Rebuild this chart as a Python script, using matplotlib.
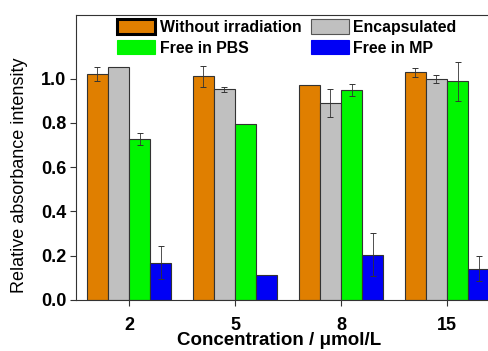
import matplotlib
matplotlib.use("Agg")
import matplotlib.pyplot as plt
from matplotlib.patches import Patch
import numpy as np

plt.rcParams['font.family'] = ['Liberation Sans', 'DejaVu Sans']

categories = ['2', '5', '8', '15']
series_names = ['Without irradiation', 'Encapsulated', 'Free in PBS', 'Free in MP']
without_irr = [1.021, 1.011, 0.970, 1.029]
encapsulated = [1.053, 0.952, 0.889, 0.999]
free_pbs = [0.726, 0.797, 0.949, 0.988]
free_mp = [0.169, 0.113, 0.205, 0.141]

err_without = [0.030, 0.048, 0.0, 0.020]
err_encap = [0.0, 0.010, 0.063, 0.017]
err_pbs = [0.027, 0.0, 0.029, 0.089]
err_mp = [0.074, 0.0, 0.098, 0.057]

colors = ['#E07F00', '#C0C0C0', '#00F500', '#0000F5']

fig = plt.figure(figsize=(4.89, 3.51), dpi=100)
ax = fig.add_axes([76/489, 51/351, 424/489, 285.5/351])

x = np.arange(len(categories))
w = 0.2
data = [without_irr, encapsulated, free_pbs, free_mp]
errs = [err_without, err_encap, err_pbs, err_mp]
offsets = [-1.5, -0.5, 0.5, 1.5]
for vals, er, c, off in zip(data, errs, colors, offsets):
    ax.bar(x + off * w, vals, width=w, color=c, edgecolor='#333333', linewidth=0.8, zorder=2)
    ax.errorbar(x + off * w, vals, yerr=er, fmt='none', ecolor='#333333',
                elinewidth=0.6, capsize=2.5, capthick=0.7, zorder=3)

ax.set_xlim(-0.5, 3.5)
ax.set_ylim(0, 1.29)
ax.set_yticks([0.0, 0.2, 0.4, 0.6, 0.8, 1.0])
ax.set_yticklabels(['0.0', '0.2', '0.4', '0.6', '0.8', '1.0'])
ax.set_xticks(x)
ax.set_xticklabels(categories)
for lab in ax.get_xticklabels() + ax.get_yticklabels():
    lab.set_fontweight('bold')
    lab.set_fontsize(13)
ax.tick_params(axis='both', direction='out', length=4, width=0.8, color='#333333', pad=3)
ax.tick_params(axis='x', pad=8)
for s in ['left', 'bottom', 'top', 'right']:
    ax.spines[s].set_color('#333333')
    ax.spines[s].set_linewidth(0.8)

ax.set_xlabel('Concentration / μmol/L', fontsize=13.5, fontweight='bold')
ax.xaxis.set_label_coords(0.479, -0.113)
ax.set_ylabel('Relative absorbance intensity', fontsize=13)
ax.yaxis.set_label_coords(-0.113, 0.438)

handles = [Patch(facecolor=colors[0], edgecolor='black', linewidth=2.2),
           Patch(facecolor=colors[2], edgecolor=colors[2], linewidth=0.8),
           Patch(facecolor=colors[1], edgecolor='#555555', linewidth=0.8),
           Patch(facecolor=colors[3], edgecolor=colors[3], linewidth=0.8)]
labels = [series_names[0], series_names[2], series_names[1], series_names[3]]
leg = ax.legend(handles, labels, ncol=2, loc='upper left', bbox_to_anchor=(0.07, 1.022),
                frameon=False, prop={'weight': 'bold', 'size': 11.4},
                handlelength=2.4, handleheight=1.05, handletextpad=0.3,
                columnspacing=0.6, labelspacing=0.3, borderpad=0.2)

fig.savefig('out.png', dpi=100)
